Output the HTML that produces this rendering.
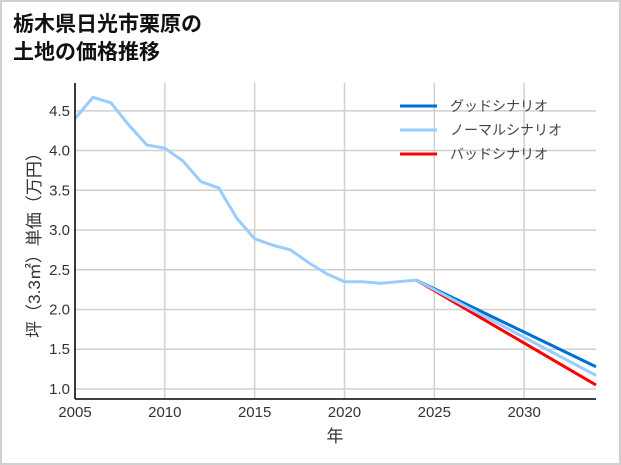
<!DOCTYPE html>
<html><head><meta charset="utf-8"><style>
body{margin:0;background:#fff}
svg{display:block}
text{font-family:"Liberation Sans Narrow","Liberation Sans","Noto Sans CJK JP",sans-serif}
.jp{font-family:"Liberation Sans","Noto Sans CJK JP",sans-serif}
</style></head><body>
<svg id="c" width="621" height="465">
<rect x="1" y="1" width="619" height="463" fill="#fff" stroke="#d0d0d0" stroke-width="2"/>
<text class="jp" x="13" y="31" font-size="21" font-weight="bold" fill="#111">栃木県日光市栗原の</text>
<text class="jp" x="13" y="59" font-size="21" font-weight="bold" fill="#111">土地の価格推移</text>
<g id="grid"></g><g id="marks"></g><g id="axes"></g>
<g>
<line x1="400" y1="106" x2="437" y2="106" stroke="#0070d0" stroke-width="3"/>
<text class="jp" x="450" y="111" font-size="14" fill="#444">グッドシナリオ</text>
<line x1="400" y1="130" x2="437" y2="130" stroke="#99ccff" stroke-width="3"/>
<text class="jp" x="450" y="135" font-size="14" fill="#444">ノーマルシナリオ</text>
<line x1="400" y1="154" x2="437" y2="154" stroke="#ff0000" stroke-width="3"/>
<text class="jp" x="450" y="159" font-size="14" fill="#444">バッドシナリオ</text>
</g>
<text class="jp" x="335" y="442" font-size="17" text-anchor="middle" fill="#333">年</text>
<text class="jp" transform="translate(40,241) rotate(-90)" font-size="17" text-anchor="middle" fill="#333">坪（3.3㎡）単価（万円）</text>
</svg>
<script>
const years=[2005,2006,2007,2008,2009,2010,2011,2012,2013,2014,2015,2016,2017,2018,2019,2020,2021,2022,2023,2024];
const prices=[4.4,4.67,4.6,4.32,4.07,4.03,3.87,3.61,3.53,3.15,2.89,2.81,2.75,2.59,2.45,2.35,2.35,2.33,2.35,2.37];
const projYears=[2024,2034];
const good=[2.37,1.28];
const normal=[2.37,1.17];
const bad=[2.37,1.05];
const xTicks=[2005,2010,2015,2020,2025,2030];
const yTicks=[1.0,1.5,2.0,2.5,3.0,3.5,4.0,4.5];
const X0=75,X1=596,Y0=399,Y1=83,xmin=2005,xmax=2034,ymin=0.874,ymax=4.85;
const sx=v=>X0+(v-xmin)/(xmax-xmin)*(X1-X0);
const sy=v=>Y0-(v-ymin)/(ymax-ymin)*(Y0-Y1);
const NS='http://www.w3.org/2000/svg';
function mk(p,t,a){const e=document.createElementNS(NS,t);for(const k in a)e.setAttribute(k,a[k]);p.appendChild(e);return e;}
const grid=document.getElementById('grid'),marks=document.getElementById('marks'),axes=document.getElementById('axes');
xTicks.forEach(t=>{const x=sx(t);
const l=mk(grid,'line',{x1:x,x2:x,y1:Y1,y2:Y0,stroke:'#d0d0d0','stroke-width':1.5});


const tx=mk(axes,'text',{x:x,y:417,'font-size':15,'text-anchor':'middle',fill:'#333'});tx.textContent=t;

});
yTicks.forEach(t=>{const y=sy(t);
const l=mk(grid,'line',{x1:X0,x2:X1,y1:y,y2:y,stroke:'#d0d0d0','stroke-width':1.5});


const tx=mk(axes,'text',{x:70,y:y+5,'font-size':15,'text-anchor':'end',fill:'#333'});tx.textContent=t.toFixed(1);

});
function line(xs,ys,c,w,n){const p=mk(marks,'polyline',{points:xs.map((x,i)=>sx(x)+','+sy(ys[i])).join(' '),fill:'none',stroke:c,'stroke-width':w,'stroke-linejoin':'round'});

}
line(projYears,bad,'#ff0000',3,'bad-scenario-line');
line(projYears,good,'#0070d0',3,'good-scenario-line');
line(projYears,normal,'#99ccff',3,'normal-scenario-line');
line(years,prices,'#99ccff',3,'historical-price-line');
const ya=mk(axes,'line',{x1:X0,x2:X0,y1:Y1,y2:Y0,stroke:'#000','stroke-width':1.5});


const xa=mk(axes,'line',{x1:X0,x2:X1,y1:Y0,y2:Y0,stroke:'#000','stroke-width':1.5});


</script>
</body></html>
